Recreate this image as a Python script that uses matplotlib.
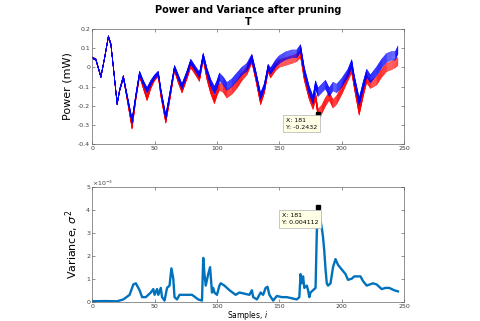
import matplotlib
matplotlib.use('Agg')
import matplotlib.pyplot as plt
import numpy as np

# sample positions
samples = [0, 3, 7, 10, 13, 15, 17, 20, 22, 25, 28, 32, 35, 38, 41, 44, 47, 50, 53, 55,
           59, 62, 66, 69, 72, 76, 79, 82, 86, 89, 92, 95, 98, 100, 102, 105, 108, 112, 116, 120,
           124, 128, 131, 135, 138, 141, 143, 147, 150, 155, 160, 164, 167, 170, 174, 177, 179, 181, 184, 187,
           190, 193, 196, 200, 205, 208, 210, 214, 217, 220, 223, 228, 232, 236, 240, 243, 245]
blue_power = [0.05, 0.04, -0.05, 0.05, 0.16, 0.12, 0.0, -0.19, -0.12, -0.05, -0.15, -0.28, -0.15, -0.03, -0.08, -0.12, -0.08, -0.05, -0.03, -0.12,
              -0.26, -0.15, 0.0, -0.05, -0.10, -0.03, 0.03, 0.0, -0.04, 0.06, -0.02, -0.08, -0.12, -0.09, -0.05, -0.07, -0.10, -0.08, -0.05, -0.02,
              0.0, 0.05, -0.03, -0.15, -0.10, 0.0, -0.02, 0.02, 0.04, 0.06, 0.07, 0.07, 0.10, -0.02, -0.12, -0.17, -0.09, -0.13, -0.11, -0.09,
              -0.13, -0.10, -0.11, -0.08, -0.03, 0.02, -0.06, -0.18, -0.10, -0.03, -0.06, -0.02, 0.02, 0.05, 0.06, 0.06, 0.09]
red_power = [0.05, 0.04, -0.05, 0.05, 0.16, 0.12, 0.0, -0.19, -0.12, -0.05, -0.16, -0.31, -0.16, -0.04, -0.10, -0.16, -0.10, -0.06, -0.04, -0.14,
             -0.28, -0.17, -0.01, -0.07, -0.12, -0.05, 0.01, -0.02, -0.06, 0.05, -0.05, -0.12, -0.17, -0.13, -0.10, -0.11, -0.14, -0.12, -0.09, -0.05,
             -0.02, 0.04, -0.05, -0.18, -0.12, -0.01, -0.04, 0.0, 0.02, 0.03, 0.04, 0.05, 0.07, -0.05, -0.15, -0.20, -0.15, -0.24, -0.22, -0.18,
             -0.15, -0.19, -0.17, -0.12, -0.05, -0.01, -0.09, -0.23, -0.14, -0.06, -0.09, -0.07, -0.03, 0.0, 0.01, 0.02, 0.03]
spread = [0.004, 0.004, 0.004, 0.004, 0.005, 0.005, 0.005, 0.006, 0.006, 0.008, 0.01, 0.012, 0.012, 0.01, 0.012, 0.014, 0.012, 0.01, 0.01, 0.012,
          0.012, 0.012, 0.01, 0.012, 0.014, 0.012, 0.012, 0.012, 0.014, 0.014, 0.016, 0.018, 0.02, 0.02, 0.02, 0.02, 0.02, 0.02, 0.02, 0.02,
          0.02, 0.018, 0.016, 0.016, 0.016, 0.016, 0.016, 0.018, 0.02, 0.02, 0.02, 0.02, 0.018, 0.02, 0.02, 0.02, 0.02, 0.022, 0.022, 0.022,
          0.022, 0.022, 0.022, 0.022, 0.02, 0.02, 0.02, 0.02, 0.02, 0.02, 0.02, 0.022, 0.022, 0.022, 0.022, 0.022, 0.02]

var_samples = [0, 10, 20, 25, 30, 33, 35, 38, 40, 43, 47, 49, 50, 52, 53, 55, 56, 58, 60, 62,
               63.5, 65, 66, 68, 70, 75, 80, 85, 88, 89, 90, 91, 93, 94.5, 96, 97, 98, 100, 102, 103,
               106, 110, 115, 118, 122, 126, 128, 129, 132, 135, 137, 139, 140.5, 142, 145, 148, 152, 156, 160, 164,
               166, 167, 168, 169, 170, 172, 173, 174, 175, 177, 179, 180, 181, 182, 183, 184, 185, 186, 187, 188,
               189, 191, 193, 195, 197, 200, 203, 205, 208, 210, 215, 217, 220, 225, 228, 232, 235, 238, 242, 245]
variance = [0.02, 0.03, 0.02, 0.1, 0.3, 0.75, 0.8, 0.5, 0.2, 0.2, 0.4, 0.55, 0.3, 0.55, 0.3, 0.6, 0.2, 0.05, 0.6, 0.7,
            1.45, 1.0, 0.2, 0.1, 0.3, 0.3, 0.3, 0.1, 0.05, 1.9, 1.2, 0.7, 1.2, 1.5, 0.4, 0.6, 0.4, 0.3, 0.7, 0.8,
            0.7, 0.5, 0.3, 0.4, 0.35, 0.3, 0.5, 0.2, 0.1, 0.4, 0.3, 0.6, 0.65, 0.3, 0.05, 0.25, 0.2, 0.2, 0.15, 0.1,
            0.2, 1.2, 0.8, 1.1, 0.6, 0.7, 0.5, 0.2, 0.4, 0.5, 0.6, 3.0, 4.112, 3.8, 3.5, 3.2, 2.8, 2.2, 1.4, 0.8,
            0.7, 0.8, 1.5, 1.85, 1.6, 1.4, 1.2, 0.95, 1.0, 1.1, 1.1, 0.9, 0.7, 0.8, 0.75, 0.55, 0.6, 0.6, 0.5, 0.45]

tip_x = 181
tip_power = -0.2432
tip_var = 0.004112

x = np.array(samples)
sp = np.array(spread)
offsets = np.linspace(-1, 1, 11)

fig = plt.figure(figsize=(4.8, 3.21), dpi=100)
ax1 = fig.add_axes([0.192, 0.551, 0.650, 0.359])
ax2 = fig.add_axes([0.192, 0.060, 0.650, 0.359])

for o in offsets:
    ax1.plot(x, np.array(red_power) + o * sp, color='red', lw=0.4)
for o in offsets:
    ax1.plot(x, np.array(blue_power) + o * sp, color='blue', lw=0.4)
ax1.plot(tip_x, tip_power, 's', color='black', ms=3)
ax1.text(155, -0.262, 'X: 181\nY: -0.2432', fontsize=4.5, va='top',
         linespacing=1.5, bbox=dict(boxstyle='square,pad=0.45', fc='#ffffe6', ec='#b0b0b0', lw=0.5))
ax1.set_xlim(0, 250)
ax1.set_ylim(-0.4, 0.2)
ax1.set_yticks(np.arange(-0.4, 0.21, 0.1))
ax1.set_yticklabels(['-0.4', '-0.3', '-0.2', '-0.1', '0', '0.1', '0.2'])
ax1.set_ylabel('Power (mW)', fontsize=8)
ax1.set_title('Power and Variance after pruning\nT', fontsize=7, fontweight='bold', pad=3, linespacing=1.2)

ax2.plot(var_samples, np.array(variance) * 1e-3, color='#0072BD', lw=1.7)
ax2.plot(tip_x, tip_var, 's', color='black', ms=3)
ax2.text(152, 0.00385, 'X: 181\nY: 0.004112', fontsize=4.5, va='top',
         linespacing=1.5, bbox=dict(boxstyle='square,pad=0.45', fc='#ffffe6', ec='#b0b0b0', lw=0.5))
ax2.set_xlim(0, 250)
ax2.set_ylim(0, 0.005)
ax2.set_yticks(np.arange(0, 0.0051, 0.001))
ax2.set_yticklabels(['0', '1', '2', '3', '4', '5'])
ax2.text(0, 1.01, r'$\times10^{-3}$', transform=ax2.transAxes, fontsize=4.5, color='0.25')
ax2.set_ylabel(r'Variance, $\sigma^2$', fontsize=8)
ax2.set_xlabel(r'Samples, $i$', fontsize=5.5, labelpad=0)

for ax in (ax1, ax2):
    ax.set_xticks(np.arange(0, 251, 50))
    ax.tick_params(direction='in', labelsize=4.5, length=2, width=0.4, top=True, right=True,
                   colors='0.25', pad=1.5)
    for s in ax.spines.values():
        s.set_linewidth(0.5)
        s.set_color('0.4')

fig.savefig('out.png', dpi=100)
